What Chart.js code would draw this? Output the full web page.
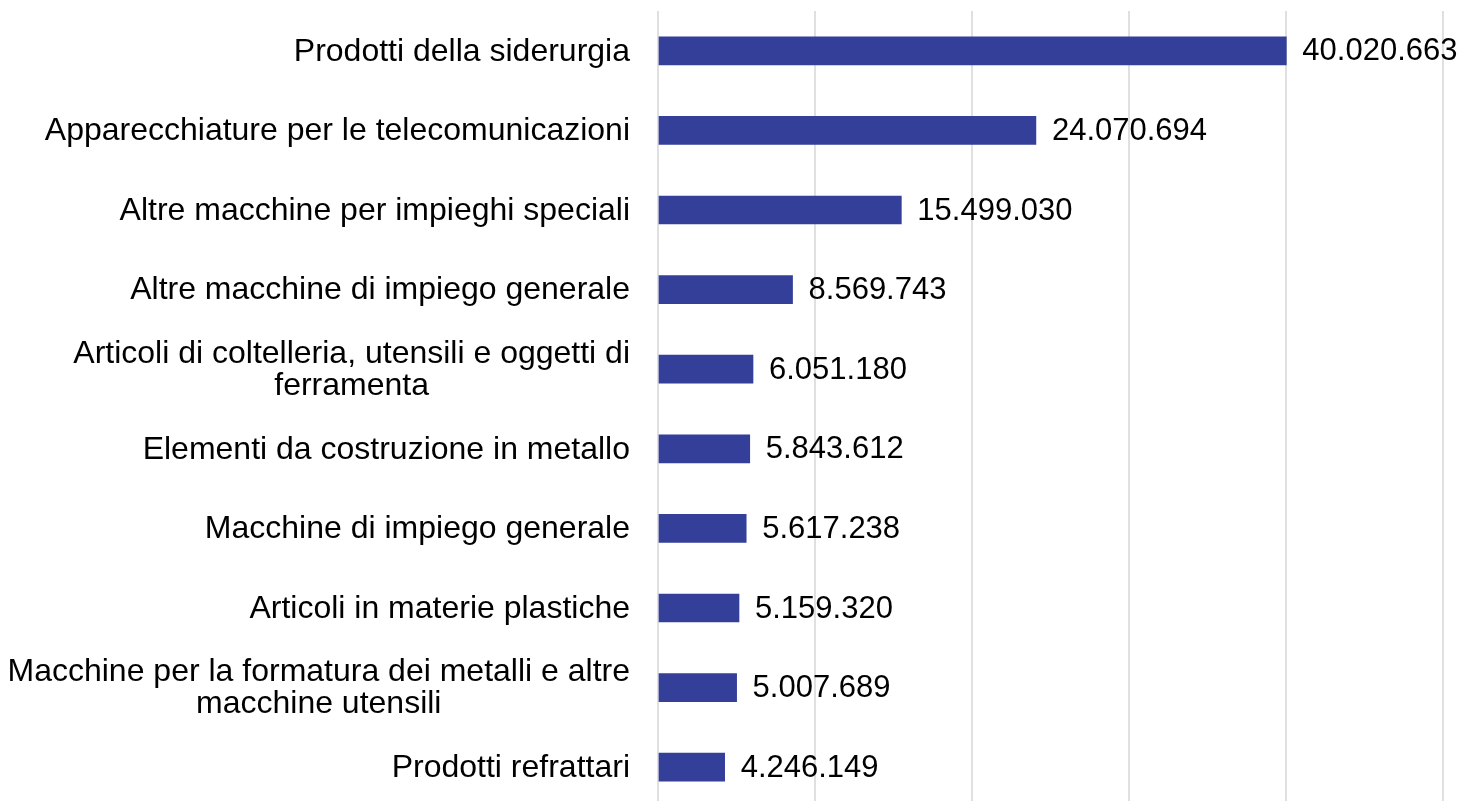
<!DOCTYPE html>
<html>
<head>
<meta charset="utf-8">
<script src="https://cdn.jsdelivr.net/npm/chart.js@4/dist/chart.umd.min.js"></script>
<style>
  html, body { margin: 0; padding: 0; background: #fff; overflow: hidden; }
  #wrap { width: 1465px; height: 807px; }
</style>
</head>
<body>
<div id="wrap"><canvas id="barChart"></canvas></div>
<script>
// categories (multi-line ones as arrays)
var categories = [
    'Prodotti della siderurgia',
    'Apparecchiature per le telecomunicazioni',
    'Altre macchine per impieghi speciali',
    'Altre macchine di impiego generale',
    ['Articoli di coltelleria, utensili e oggetti di', 'ferramenta'],
    'Elementi da costruzione in metallo',
    'Macchine di impiego generale',
    'Articoli in materie plastiche',
    ['Macchine per la formatura dei metalli e altre', 'macchine utensili'],
    'Prodotti refrattari'
];
var values = [40020663, 24070694, 15499030, 8569743, 6051180, 5843612, 5617238, 5159320, 5007689, 4246149];
var xTicks = [0, 10000000, 20000000, 30000000, 40000000, 50000000];

var FONT = '"Liberation Sans", Arial, sans-serif';
var LABEL_SIZE = 32;
var VALUE_SIZE = 31;

function fmt(n) {
    return String(n).replace(/\B(?=(\d{3})+(?!\d))/g, '.');
}

// value labels at the end of each bar
var valueLabels = {
    id: 'valueLabels',
    afterDatasetsDraw: function (chart) {
        var ctx = chart.ctx;
        var meta = chart.getDatasetMeta(0);
        ctx.save();
        ctx.font = VALUE_SIZE + 'px ' + FONT;
        ctx.fillStyle = '#000';
        ctx.textAlign = 'left';
        ctx.textBaseline = 'middle';
        meta.data.forEach(function (bar, i) {
            ctx.fillText(fmt(values[i]), bar.x + 16, bar.y + 1);
        });
        ctx.restore();
    }
};

// category labels, lines centred on each other, block right-aligned
var categoryLabels = {
    id: 'categoryLabels',
    afterDraw: function (chart) {
        var ctx = chart.ctx;
        var yScale = chart.scales.y;
        var right = chart.chartArea.left - 28;
        var lineH = 32;
        ctx.save();
        ctx.font = LABEL_SIZE + 'px ' + FONT;
        ctx.fillStyle = '#000';
        ctx.textAlign = 'center';
        ctx.textBaseline = 'middle';
        categories.forEach(function (c, i) {
            var lines = Array.isArray(c) ? c : [c];
            var w = Math.max.apply(null, lines.map(function (l) { return ctx.measureText(l).width; }));
            var cx = right - w / 2;
            var y0 = yScale.getPixelForValue(i) + 1 - (lines.length - 1) * lineH / 2;
            lines.forEach(function (l, k) {
                ctx.fillText(l, cx, y0 + k * lineH);
            });
        });
        ctx.restore();
    }
};

var ctx1 = document.getElementById('barChart').getContext('2d');
var barChart = new Chart(ctx1, {
    type: 'bar',
    data: {
        labels: categories,
        datasets: [{
            data: values,
            backgroundColor: '#333F99',
            borderWidth: 0,
            barThickness: 28
        }]
    },
    options: {
        indexAxis: 'y',
        responsive: true,
        maintainAspectRatio: false,
        animation: false,
        layout: { padding: { left: 0, right: 22, top: 11, bottom: 0 } },
        plugins: {
            legend: { display: false },
            tooltip: { enabled: false }
        },
        scales: {
            x: {
                min: 0,
                max: 50000000,
                afterBuildTicks: function (scale) {
                    scale.ticks = xTicks.map(function (v) { return { value: v }; });
                },
                ticks: { display: false },
                grid: { color: '#e0e0e0', lineWidth: 2, drawTicks: false },
                border: { display: false }
            },
            y: {
                ticks: { display: false },
                grid: { display: false, drawTicks: false },
                border: { display: false },
                afterFit: function (scale) { scale.width = 658; }
            }
        }
    },
    plugins: [valueLabels, categoryLabels]
});
</script>
</body>
</html>
